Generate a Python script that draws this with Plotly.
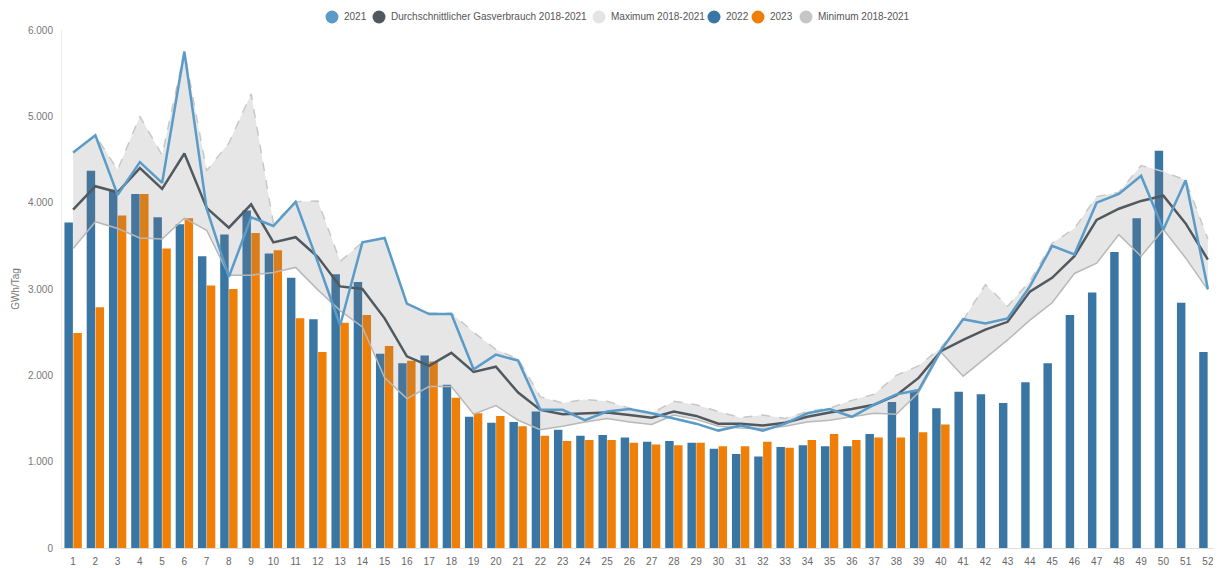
import plotly.graph_objects as go

# Kalenderwochen
weeks = list(range(1, 53))

# Gasverbrauch in GWh/Tag
gas_2021 = [4580, 4780, 4090, 4470, 4230, 5750, 3930, 3140, 3830, 3730, 4010, 3310, 2580,
            3540, 3590, 2830, 2710, 2710, 2070, 2240, 2170, 1600, 1600, 1480, 1580, 1610,
            1560, 1500, 1440, 1360, 1420, 1360, 1440, 1560, 1610, 1520, 1660, 1780, 1830,
            2290, 2650, 2600, 2660, 3030, 3500, 3400, 4000, 4100, 4310, 3690, 4260, 3000]
gas_avg = [3920, 4190, 4120, 4400, 4160, 4570, 3940, 3710, 3980, 3540, 3600, 3370, 3030,
           3000, 2660, 2220, 2110, 2260, 2040, 2100, 1800, 1600, 1550, 1560, 1570, 1540,
           1510, 1580, 1530, 1440, 1440, 1420, 1450, 1520, 1570, 1610, 1660, 1770, 1970,
           2280, 2410, 2530, 2620, 2970, 3130, 3380, 3800, 3930, 4020, 4080, 3760, 3340]
gas_max = [4580, 4780, 4380, 5000, 4550, 5750, 4370, 4690, 5260, 3760, 4010, 4020, 3320,
           3540, 3590, 2830, 2720, 2720, 2500, 2300, 2190, 1750, 1680, 1720, 1700, 1620,
           1560, 1700, 1660, 1580, 1510, 1540, 1500, 1580, 1620, 1710, 1780, 2000, 2110,
           2320, 2640, 3050, 2800, 3090, 3530, 3700, 4070, 4120, 4430, 4360, 4260, 3580]
gas_min = [3470, 3780, 3700, 3590, 3580, 3820, 3680, 3160, 3160, 3190, 3250, 2990, 2750,
           2560, 1970, 1730, 1870, 1870, 1550, 1650, 1480, 1370, 1410, 1460, 1500, 1460,
           1430, 1540, 1490, 1410, 1390, 1380, 1410, 1460, 1480, 1520, 1560, 1550, 1800,
           2270, 1990, 2200, 2410, 2640, 2840, 3180, 3300, 3630, 3380, 3690, 3360, 2990]
gas_2022 = [3770, 4370, 4150, 4100, 3830, 3750, 3380, 3630, 3910, 3410, 3130, 2650, 3170,
            3080, 2250, 2140, 2230, 1890, 1520, 1450, 1460, 1580, 1370, 1300, 1310, 1280,
            1230, 1240, 1220, 1150, 1090, 1060, 1170, 1190, 1180, 1180, 1320, 1690, 1820,
            1620, 1810, 1780, 1680, 1920, 2140, 2700, 2960, 3430, 3820, 4600, 2840, 2270]
gas_2023 = [2490, 2790, 3850, 4100, 3470, 3820, 3040, 3000, 3650, 3450, 2660, 2270, 2610,
            2700, 2340, 2170, 2160, 1740, 1560, 1530, 1410, 1300, 1240, 1250, 1250, 1220,
            1200, 1190, 1220, 1180, 1180, 1230, 1160, 1250, 1320, 1250, 1280, 1280, 1340,
            1430] + [None] * 12

c_2021 = "#5b9bc8"
c_avg = "#51595f"
c_2022 = "#3a76a3"
c_2023 = "#ef7f06"
c_max = "#e4e4e4"
c_min = "#c6c6c6"

# Legende (Name, Farbe, Position des Kreises in px)
legend_names = ["2021", "Durchschnittlicher Gasverbrauch 2018-2021", "Maximum 2018-2021",
                "2022", "2023", "Minimum 2018-2021"]
legend_colors = [c_2021, c_avg, c_max, c_2022, c_2023, c_min]
legend_px = [332, 379, 599, 714, 758, 806]

# Seite hat 8px Rand -> Figur entsprechend kleiner
W, H = 1213, 560
ML, MR, MT, MB = 54, 2, 22, 20
plot_w = W - ML - MR
plot_h = H - MT - MB

fig = go.Figure()

fig.add_trace(go.Bar(x=weeks, y=gas_2022, name="2022", marker=dict(color=c_2022, line=dict(width=0))))
fig.add_trace(go.Bar(x=weeks, y=gas_2023, name="2023", marker=dict(color=c_2023, line=dict(width=0))))

# Bandbreite Min/Max 2018-2021
fig.add_trace(go.Scatter(x=weeks, y=gas_max, mode="lines", name="Maximum 2018-2021",
                         line=dict(color="#c8c8c8", width=1.5, dash="dash")))
fig.add_trace(go.Scatter(x=weeks, y=gas_min, mode="lines", name="Minimum 2018-2021",
                         line=dict(color="#b8b8b8", width=1.5), fill="tonexty",
                         fillcolor="rgba(120,120,120,0.19)"))

fig.add_trace(go.Scatter(x=weeks, y=gas_avg, mode="lines", name="Durchschnittlicher Gasverbrauch 2018-2021",
                         line=dict(color=c_avg, width=2.5)))
fig.add_trace(go.Scatter(x=weeks, y=gas_2021, mode="lines", name="2021",
                         line=dict(color=c_2021, width=2.5)))

# eigene Legende mit Kreisen
leg_y = 1 + (MT + 8 - 17) / plot_h
for name, color, px in zip(legend_names, legend_colors, legend_px):
    xp = (px - 8 - ML) / plot_w
    fig.add_shape(type="circle", xref="paper", yref="paper", xsizemode="pixel", ysizemode="pixel",
                  xanchor=xp, yanchor=leg_y, x0=-6.5, x1=6.5, y0=-6.5, y1=6.5,
                  fillcolor=color, line=dict(width=0))
    fig.add_annotation(x=xp, y=leg_y, xref="paper", yref="paper", text=name, showarrow=False,
                       xanchor="left", yanchor="middle", xshift=10,
                       font=dict(size=10, color="#555555"))

fig.update_layout(
    width=W,
    height=H,
    margin=dict(l=ML, r=MR, t=MT, b=MB),
    plot_bgcolor="white",
    paper_bgcolor="white",
    barmode="group",
    bargap=0.2,
    bargroupgap=0.05,
    separators=",.",
    font=dict(family="Liberation Sans, Arial, sans-serif", size=10, color="#666666"),
    showlegend=False,
)

fig.update_xaxes(range=[0.5, 52.5], tickmode="array", tickvals=weeks, ticktext=[str(w) for w in weeks],
                 showgrid=False, zeroline=False, showline=True, linecolor="#dddddd", linewidth=1,
                 ticks="", ticklabelstandoff=4, tickfont=dict(size=10, color="#666666"), automargin=False)
fig.update_yaxes(range=[0, 6000], dtick=1000, tickformat=",d", showgrid=False, zeroline=False,
                 showline=True, linecolor="#eeeeee", linewidth=1, ticks="", ticklabelstandoff=6,
                 tickfont=dict(size=10, color="#777777"), automargin=False,
                 title=dict(text="GWh/Tag", font=dict(size=10, color="#777777"), standoff=6))

fig.write_html("out.html")
